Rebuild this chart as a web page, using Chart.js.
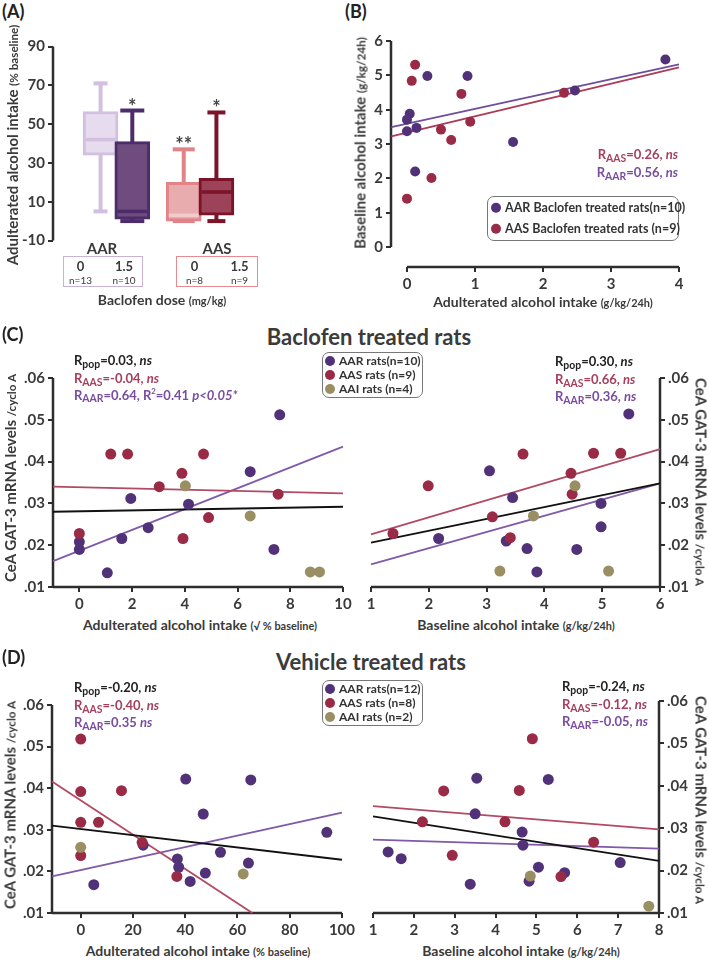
<!DOCTYPE html>
<html>
<head>
<meta charset="utf-8">
<script src="https://cdn.jsdelivr.net/npm/chart.js"></script>
<style>
  body { margin: 0; background: #fff; }
  #page { position: relative; width: 709px; height: 960px; overflow: hidden; font-family: Lato, "Open Sans", sans-serif; color: #3a3a3a; }
  .t { position: absolute; white-space: nowrap; font-weight: 700; line-height: 1; }
  .s { font-size: 0.78em; }
  .sub { font-size: 0.8em; position: relative; top: 0.3em; }
  .lg { position: absolute; box-sizing: border-box; border: 1.5px solid #777; border-radius: 7px; background: #fff; }
  .dot { display: inline-block; width: 10px; height: 10px; border-radius: 50%; margin-right: 4px; vertical-align: -1px; }
  canvas { position: absolute; }
</style>
</head>
<body>
<div id="page"></div>
<script>
// ---- panel A : box plots (adulterated alcohol intake, % baseline)
const boxDose = ['0', '1.5', '0', '1.5'];
const boxN = [13, 10, 8, 9];
const boxMin = [5, 0, 0, 0];
const boxQ1 = [34, 1, 0, 3];
const boxMedian = [42, 5, 3, 15];
const boxQ3 = [56.5, 41, 20, 22];
const boxMax = [71, 57, 37, 56];
const boxStars = ['', '*', '**', '*'];
const aTicks = [-10, 10, 30, 50, 70, 90];

// ---- panel B : baseline vs adulterated intake (g/kg/24h)
const bAAR = [[0, 3.71], [0.04, 3.88], [0, 3.37], [0.14, 3.47], [0.12, 2.2], [0.3, 4.98], [0.89, 4.98], [1.56, 3.06], [2.47, 4.56], [3.8, 5.46]];
const bAAS = [[0.12, 5.31], [0.07, 4.84], [0.8, 4.46], [0.5, 3.42], [0.93, 3.65], [0.65, 3.12], [0.36, 2.01], [0, 1.41], [2.31, 4.49]];
const bFitAAR = [[-0.23, 3.49], [4, 5.32]];
const bFitAAS = [[-0.23, 3.22], [4, 5.23]];
const bXTicks = [0, 1, 2, 3, 4];
const bYTicks = [0, 1, 2, 3, 4, 5, 6];

// ---- panel C : baclofen treated rats
const cLAAR = [[0, 0.0208], [0, 0.019], [1.06, 0.0134], [1.61, 0.0216], [1.95, 0.0312], [2.61, 0.0242], [4.14, 0.0298], [6.48, 0.0376], [7.38, 0.019], [7.6, 0.0512]];
const cLAAS = [[0, 0.0228], [1.19, 0.0418], [1.83, 0.0418], [3.03, 0.034], [3.89, 0.0372], [3.93, 0.0216], [4.71, 0.0418], [4.9, 0.0266], [7.54, 0.0322]];
const cLAAI = [[4.02, 0.0342], [6.48, 0.027], [8.76, 0.0136], [9.11, 0.0136]];
const cLFitPop = [[-1, 0.028], [10, 0.0292]];
const cLFitAAS = [[-1, 0.034], [10, 0.0324]];
const cLFitAAR = [[-1, 0.0162], [10, 0.0436]];
const cLXTicks = [0, 2, 4, 6, 8, 10];

const cRAAR = [[2.17, 0.0216], [3.05, 0.0378], [3.34, 0.021], [3.45, 0.0314], [3.7, 0.0192], [3.87, 0.0136], [4.56, 0.019], [4.98, 0.03], [4.98, 0.0244], [5.46, 0.0514]];
const cRAAS = [[1.38, 0.0228], [1.99, 0.0342], [3.1, 0.0268], [3.41, 0.0218], [3.63, 0.0418], [4.46, 0.0372], [4.48, 0.0322], [4.85, 0.042], [5.32, 0.042]];
const cRAAI = [[3.23, 0.0138], [3.81, 0.027], [4.53, 0.0342], [5.11, 0.0138]];
const cRFitPop = [[1, 0.0206], [6, 0.0348]];
const cRFitAAS = [[1, 0.0226], [6, 0.043]];
const cRFitAAR = [[1, 0.0154], [6, 0.0348]];
const cRXTicks = [1, 2, 3, 4, 5, 6];

// ---- panel D : vehicle treated rats
const dLAAR = [[5, 0.0168], [23.9, 0.0263], [37, 0.023], [37.5, 0.021], [40.2, 0.0422], [41.9, 0.0176], [46.9, 0.0338], [47.7, 0.0196], [53.5, 0.0246], [64.2, 0.022], [65.1, 0.042], [94.2, 0.0294]];
const dLAAS = [[0, 0.0518], [0, 0.0392], [0, 0.0318], [0, 0.0238], [6.8, 0.0318], [15.6, 0.0394], [23.5, 0.027], [36.8, 0.0188]];
const dLAAI = [[0, 0.0258], [62.2, 0.0194]];
const dLFitPop = [[-11, 0.031], [100, 0.0228]];
const dLFitAAS = [[-11, 0.0416], [65.7, 0.01]];
const dLFitAAR = [[-11, 0.0188], [100, 0.0341]];
const dLXTicks = [0, 20, 40, 60, 80, 100];

const dRAAR = [[1.37, 0.0244], [1.69, 0.0228], [3.38, 0.0168], [3.5, 0.0334], [3.54, 0.0418], [4.65, 0.0291], [4.67, 0.026], [4.82, 0.0175], [5.05, 0.0208], [5.29, 0.0415], [5.69, 0.0195], [7.05, 0.0219]];
const dRAAS = [[2.21, 0.0315], [2.73, 0.0388], [2.94, 0.0236], [4.23, 0.0315], [4.58, 0.0389], [4.9, 0.0511], [5.6, 0.0186], [6.4, 0.0267]];
const dRAAI = [[4.85, 0.0187], [7.75, 0.0116]];
const dRFitPop = [[1, 0.0328], [8, 0.0223]];
const dRFitAAS = [[1, 0.0352], [8, 0.0297]];
const dRFitAAR = [[1, 0.0273], [8, 0.0252]];
const dRXTicks = [1, 2, 3, 4, 5, 6, 7, 8];

const mrnaTicks = [0.01, 0.02, 0.03, 0.04, 0.05, 0.06];

// colours
const FONT = 'Lato, "Open Sans", sans-serif';
const INK = '#3a3a3a';
const AXIS = '#2e2e2e';
const PURPLE = '#513279', RED = '#9a2b46', OLIVE = '#9a8f62';
const PURPLE_LINE = '#8059a8', RED_LINE = '#b14a64';
const PURPLE_TXT = '#7a4c9f', RED_TXT = '#a63f5b';
const boxFill = ['#e6dcee', '#6e4c7e', '#e8abae', '#9c4259'];
const boxEdge = ['#d3bfe0', '#4d2c6c', '#e28388', '#7b1329'];
const boxMid = ['#d3bfe0', '#4d2c6c', '#f2cccd', '#7b1329'];
const boxCap = [7, 12, 11, 9];
const boxPos = [1, 2, 3.62, 4.65];   // layout along the x axis

Chart.defaults.font.family = FONT;
Chart.defaults.animation = false;

const page = document.getElementById('page');
const tickFont = { family: FONT, size: 15, weight: 'bold' };
const pts = arr => arr.map(p => ({ x: p[0], y: p[1] }));
const fmt2 = v => v.toFixed(2).replace(/^0/, '');

function put(html, x, y, o = {}) {
  const d = document.createElement('div');
  d.className = 't';
  d.innerHTML = html;
  d.style.left = x + 'px';
  d.style.top = y + 'px';
  d.style.fontSize = (o.size || 13) + 'px';
  if (o.color) d.style.color = o.color;
  if (o.weight) d.style.fontWeight = o.weight;
  const ax = o.align === 'center' ? '-50%' : o.align === 'right' ? '-100%' : '0';
  d.style.transform = `translate(${ax}, -50%)` + (o.rot ? ` rotate(${o.rot}deg)` : '');
  page.appendChild(d);
  return d;
}

// axis lines drawn only over the given value spans
function axisLines(xSpan, ySpan, side) {
  return {
    id: 'axisLines',
    beforeDatasetsDraw(chart) {
      const { ctx, chartArea, scales } = chart;
      ctx.save();
      ctx.strokeStyle = AXIS;
      ctx.lineWidth = 2.5;
      ctx.beginPath();
      if (xSpan) {
        ctx.moveTo(scales.x.getPixelForValue(xSpan[0]), chartArea.bottom);
        ctx.lineTo(scales.x.getPixelForValue(xSpan[1]), chartArea.bottom);
      }
      const ax = side === 'right' ? chartArea.right : chartArea.left;
      ctx.moveTo(ax, scales.y.getPixelForValue(ySpan[0]));
      ctx.lineTo(ax, scales.y.getPixelForValue(ySpan[1]));
      ctx.stroke();
      ctx.restore();
    }
  };
}

function scale(range, ticks, fmt, position, sizeKey, size, show = true) {
  return {
    type: 'linear', position, display: show, min: range[0], max: range[1],
    afterBuildTicks: s => { s.ticks = ticks.map(v => ({ value: v })); },
    afterFit: s => { s[sizeKey] = size; },
    grid: { drawOnChartArea: false, drawTicks: true, tickLength: 5, color: AXIS, lineWidth: 2 },
    border: { display: false },
    ticks: { font: tickFont, color: INK, padding: 3, maxRotation: 0, autoSkip: false, callback: fmt }
  };
}

// area = chart area in page pixels
function makeChart(area, side, xHeight, config) {
  const YW = 45, P = 12;
  const left = side === 'left' ? area.l - YW : area.l - P;
  const right = side === 'left' ? area.r + P : area.r + YW;
  const top = area.t - P;
  const bottom = area.b + (xHeight || P);
  const cv = document.createElement('canvas');
  cv.width = right - left;
  cv.height = bottom - top;
  cv.style.left = left + 'px';
  cv.style.top = top + 'px';
  page.appendChild(cv);
  config.options.responsive = false;
  config.options.layout = {
    padding: side === 'left'
      ? { left: 0, right: P, top: P, bottom: xHeight ? 0 : P }
      : { left: P, right: 0, top: P, bottom: xHeight ? 0 : P }
  };
  return new Chart(cv.getContext('2d'), config);
}

function scatterPanel(p) {
  const datasets = [];
  p.fits.forEach(f => datasets.push({
    type: 'line', data: pts(f[0]), borderColor: f[1], borderWidth: 1.8,
    pointRadius: 0, fill: false, order: 10, clip: false
  }));
  p.groups.forEach((g, i) => datasets.push({
    type: 'scatter', data: pts(g[0]), backgroundColor: g[1], borderWidth: 0,
    pointRadius: p.r || 5.5, order: 5 - i, clip: false
  }));
  return makeChart(p.area, p.side, 28, {
    type: 'scatter',
    data: { datasets },
    options: {
      plugins: { legend: { display: false }, tooltip: { enabled: false } },
      scales: {
        x: scale(p.xRange, p.xTicks, v => String(v), 'bottom', 'height', 28),
        y: scale(p.yRange, p.yTicks, p.yFmt || fmt2, p.side, 'width', 45)
      }
    },
    plugins: [axisLines(p.xSpan || p.xRange, p.ySpan || p.yRange, p.side)]
  });
}

// ---------- panel A
const aDatasets = [{
  type: 'bar', data: boxPos.map((x, i) => ({ x, y: [boxQ1[i], boxQ3[i]] })),
  backgroundColor: boxFill, borderColor: boxEdge, borderWidth: 3, borderSkipped: false,
  barThickness: 35, grouped: false, order: 2
}];
boxPos.forEach((x, i) => {
  aDatasets.push({
    type: 'line', data: [{ x, y: boxMin[i] }, { x, y: boxMax[i] }],
    borderColor: boxEdge[i], borderWidth: 4, pointStyle: 'line', pointRadius: boxCap[i],
    pointBorderWidth: 4, pointBorderColor: boxEdge[i], order: 3, clip: false
  });
  aDatasets.push({
    type: 'scatter', data: [{ x, y: boxMedian[i] }],
    pointStyle: 'line', pointRadius: 15, pointBorderWidth: 3.5, borderColor: boxMid[i], order: 1, clip: false
  });
});
const starsPlugin = {
  id: 'stars',
  afterDatasetsDraw(chart) {
    const { ctx, scales } = chart;
    ctx.save();
    ctx.font = `bold 20px ${FONT}`;
    ctx.fillStyle = '#444';
    ctx.textAlign = 'center';
    ctx.textBaseline = 'alphabetic';
    boxStars.forEach((s, i) => {
      if (s) ctx.fillText(s, scales.x.getPixelForValue(boxPos[i]), scales.y.getPixelForValue(boxMax[i]) + 3);
    });
    ctx.restore();
  }
};
makeChart({ l: 53, t: 40, r: 280, b: 247 }, 'left', 0, {
  type: 'bar',
  data: { datasets: aDatasets },
  options: {
    plugins: { legend: { display: false }, tooltip: { enabled: false } },
    scales: {
      x: { type: 'linear', min: 0.37, max: 5.58, display: false },
      y: scale([-10, 90], aTicks, v => String(v), 'left', 'width', 45)
    }
  },
  plugins: [axisLines(null, [-10, 90], 'left'), starsPlugin]
});

put('(A)', 2, 11, { size: 18, color: '#222' });
put('Adulterated alcohol intake <span class="s">(% baseline)</span>', 12, 145, { align: 'center', rot: -90, size: 15 });
put('AAR', 102, 248, { align: 'center', size: 15 });
put('AAS', 217, 248, { align: 'center', size: 15 });
[[63, 80, '#c7b3d6'], [176, 82, '#e88b90']].forEach(b => {
  const d = document.createElement('div');
  d.style.cssText = `position:absolute;box-sizing:border-box;left:${b[0]}px;top:256px;width:${b[1]}px;height:31px;border:1.5px solid ${b[2]}`;
  page.appendChild(d);
});
[80.5, 124, 194.5, 239.5].forEach((x, i) => {
  put(boxDose[i], x, 266, { align: 'center', size: 13 });
  put('n=' + boxN[i], x, 280, { align: 'center', size: 10, weight: 400 });
});
put('Baclofen dose <span class="s">(mg/kg)</span>', 162, 300, { align: 'center', size: 14 });

// ---------- panel B
scatterPanel({
  area: { l: 391, t: 41, r: 679, b: 267 }, side: 'left',
  xRange: [-0.235, 4], yRange: [-0.58, 6], xSpan: [0, 4], ySpan: [0, 6],
  xTicks: bXTicks, yTicks: bYTicks, yFmt: v => String(v), r: 5,
  fits: [[bFitAAR, '#6f4e9c'], [bFitAAS, '#ad3a56']],
  groups: [[bAAR, PURPLE], [bAAS, RED]]
});
put('(B)', 345, 11, { size: 18, color: '#222' });
put('Baseline alcohol intake <span class="s">(g/kg/24h)</span>', 360, 143, { align: 'center', rot: -90, size: 15 });
put('Adulterated alcohol intake <span class="s">(g/kg/24h)</span>', 543, 302, { align: 'center', size: 14 });
put('R<span class="sub">AAS</span>=0.26, <i>ns</i>', 678, 154, { align: 'right', size: 13, color: RED_TXT });
put('R<span class="sub">AAR</span>=0.56, <i>ns</i>', 678, 172, { align: 'right', size: 13, color: PURPLE_TXT });
(() => {
  const lg = document.createElement('div');
  lg.className = 'lg';
  lg.style.cssText += 'left:487px;top:196px;width:192px;height:45px;';
  page.appendChild(lg);
  put(`<span class="dot" style="background:${PURPLE}"></span>AAR Baclofen treated rats(n=10)`, 491, 208, { size: 12.5, color: '#333' });
  put(`<span class="dot" style="background:${RED}"></span>AAS Baclofen treated rats (n=9)`, 491, 229, { size: 12.5, color: '#333' });
})();

// ---------- panels C and D
function legend3(top, n) {
  const lg = document.createElement('div');
  lg.className = 'lg';
  lg.style.cssText += `left:322px;top:${top}px;width:101px;height:46px;`;
  page.appendChild(lg);
  const names = ['AAR rats(n=' + n[0] + ')', 'AAS rats (n=' + n[1] + ')', 'AAI rats (n=' + n[2] + ')'];
  [PURPLE, RED, OLIVE].forEach((c, i) => {
    put(`<span class="dot" style="background:${c}"></span>${names[i]}`, 325, top + 9 + i * 14, { size: 12, color: '#333' });
  });
}
function rLines(x, y, texts, align) {
  const cols = ['#222', RED_TXT, PURPLE_TXT];
  texts.forEach((t, i) => put(t, x, y + i * 17.5, { size: 13, color: cols[i], align }));
}
const yTitle = 'CeA GAT-3 mRNA levels <span class="s">/cyclo A</span>';

put('(C)', 2, 334, { size: 18, color: '#222' });
put('Baclofen treated rats', 369, 337, { align: 'center', size: 22, color: '#3b3b3b' });
scatterPanel({
  area: { l: 53, t: 378, r: 343, b: 587 }, side: 'left',
  xRange: [-1, 10], yRange: [0.01, 0.06], xTicks: cLXTicks, yTicks: mrnaTicks,
  fits: [[cLFitPop, '#111'], [cLFitAAS, RED_LINE], [cLFitAAR, PURPLE_LINE]],
  groups: [[cLAAR, PURPLE], [cLAAS, RED], [cLAAI, OLIVE]]
});
scatterPanel({
  area: { l: 371, t: 378, r: 660, b: 587 }, side: 'right',
  xRange: [1, 6], yRange: [0.01, 0.06], xTicks: cRXTicks, yTicks: mrnaTicks,
  fits: [[cRFitPop, '#111'], [cRFitAAS, RED_LINE], [cRFitAAR, PURPLE_LINE]],
  groups: [[cRAAR, PURPLE], [cRAAS, RED], [cRAAI, OLIVE]]
});
legend3(352, [10, 9, 4]);
rLines(74, 360, ['R<span class="sub">pop</span>=0.03, <i>ns</i>', 'R<span class="sub">AAS</span>=-0.04, <i>ns</i>',
  'R<span class="sub">AAR</span>=0.64, R<sup style="font-size:0.6em">2</sup>=0.41 <i>p&lt;0.05*</i>']);
rLines(555, 361, ['R<span class="sub">pop</span>=0.30, <i>ns</i>', 'R<span class="sub">AAS</span>=0.66, <i>ns</i>',
  'R<span class="sub">AAR</span>=0.36, <i>ns</i>']);
put(yTitle, 10, 478, { align: 'center', rot: -90, size: 15 });
put(yTitle, 701, 482, { align: 'center', rot: 90, size: 15 });
put('Adulterated alcohol intake <span class="s">(√ % baseline)</span>', 200, 625, { align: 'center', size: 14 });
put('Baseline alcohol intake <span class="s">(g/kg/24h)</span>', 516, 625, { align: 'center', size: 14 });

put('(D)', 2, 657, { size: 18, color: '#222' });
put('Vehicle treated rats', 371, 662, { align: 'center', size: 22, color: '#3b3b3b' });
scatterPanel({
  area: { l: 52, t: 705, r: 346, b: 913 }, side: 'left',
  xRange: [-11, 100], yRange: [0.01, 0.06], xTicks: dLXTicks, yTicks: mrnaTicks,
  fits: [[dLFitPop, '#111'], [dLFitAAS, RED_LINE], [dLFitAAR, PURPLE_LINE]],
  groups: [[dLAAR, PURPLE], [dLAAS, RED], [dLAAI, OLIVE]]
});
scatterPanel({
  area: { l: 373, t: 701, r: 659, b: 913 }, side: 'right',
  xRange: [1, 8], yRange: [0.01, 0.06], xTicks: dRXTicks, yTicks: mrnaTicks,
  fits: [[dRFitPop, '#111'], [dRFitAAS, RED_LINE], [dRFitAAR, PURPLE_LINE]],
  groups: [[dRAAR, PURPLE], [dRAAS, RED], [dRAAI, OLIVE]]
});
legend3(680, [12, 8, 2]);
rLines(74, 687, ['R<span class="sub">pop</span>=-0.20, <i>ns</i>', 'R<span class="sub">AAS</span>=-0.40, <i>ns</i>',
  'R<span class="sub">AAR</span>=0.35 <i>ns</i>']);
rLines(562, 686, ['R<span class="sub">pop</span>=-0.24, <i>ns</i>', 'R<span class="sub">AAS</span>=-0.12, <i>ns</i>',
  'R<span class="sub">AAR</span>=-0.05, <i>ns</i>']);
put(yTitle, 10, 805, { align: 'center', rot: -90, size: 15 });
put(yTitle, 701, 800, { align: 'center', rot: 90, size: 15 });
put('Adulterated alcohol intake <span class="s">(% baseline)</span>', 198, 951, { align: 'center', size: 14 });
put('Baseline alcohol intake <span class="s">(g/kg/24h)</span>', 521, 951, { align: 'center', size: 14 });
</script>
</body>
</html>
